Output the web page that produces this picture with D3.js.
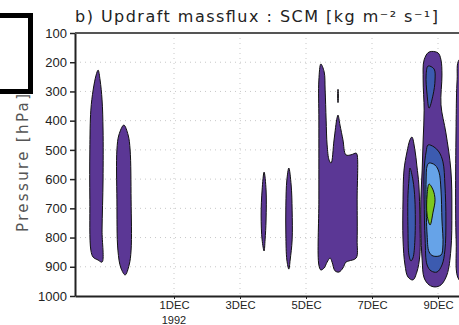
<!DOCTYPE html>
<html>
<head>
<meta charset="utf-8">
<script src="https://cdn.jsdelivr.net/npm/d3@7"></script>
<style>
  body { margin: 0; background: #fff; }
  svg { display: block; }
</style>
</head>
<body>
<div id="chart"></div>
<script>
// time in days of December 1992 (1 = 1DEC 00Z, -2 = 28NOV), pressure in hPa
const pressureTicks = [100, 200, 300, 400, 500, 600, 700, 800, 900, 1000];
const dayTicks = [1, 3, 5, 7, 9];
const dayLabels = ["1DEC", "3DEC", "5DEC", "7DEC", "9DEC"];
const yearLabel = "1992";

// contour outlines, [day, hPa]
const blob1 = [[-1.30,227],[-1.24,261],[-1.18,329],[-1.15,432],[-1.15,603],[-1.18,774],[-1.18,884],[-1.30,877],[-1.45,867],[-1.52,843],[-1.55,671],[-1.55,500],[-1.52,364],[-1.45,295],[-1.36,244]];
const blob2 = [[-0.52,415],[-0.39,449],[-0.33,500],[-0.30,671],[-0.30,843],[-0.36,894],[-0.48,928],[-0.61,904],[-0.70,843],[-0.73,671],[-0.73,500],[-0.67,449]];
const blob3 = [[3.73,576],[3.79,637],[3.79,740],[3.76,808],[3.73,846],[3.67,808],[3.64,723],[3.67,637]];
const blob4 = [[4.48,562],[4.55,620],[4.58,706],[4.58,808],[4.52,877],[4.48,908],[4.42,877],[4.39,791],[4.39,689],[4.42,603]];
const blob5 = [[5.45,206],[5.55,233],[5.58,295],[5.61,398],[5.64,483],[5.70,535],[5.76,545],[5.85,466],[5.94,391],[5.97,381],[6.03,415],[6.12,466],[6.21,517],[6.36,517],[6.52,511],[6.55,517],[6.55,671],[6.55,808],[6.52,870],[6.30,880],[6.21,884],[6.12,904],[6.00,918],[5.88,914],[5.79,884],[5.73,870],[5.64,884],[5.55,904],[5.45,911],[5.39,894],[5.39,671],[5.39,398],[5.39,261]];
const dash = [[5.968,293],[5.972,293],[5.972,338],[5.968,338]];
const leftOuter = [[8.21,456],[8.30,500],[8.36,555],[8.42,620],[8.45,740],[8.45,860],[8.36,918],[8.24,945],[8.09,935],[8.00,894],[7.94,808],[7.94,671],[7.97,569],[8.06,507],[8.15,466]];
const leftInner = [[8.15,562],[8.24,603],[8.30,671],[8.30,808],[8.24,870],[8.18,880],[8.12,860],[8.09,774],[8.09,654],[8.12,603]];
const mainOuter = [[8.73,165],[9.00,168],[9.09,192],[9.12,244],[9.09,346],[9.24,442],[9.39,569],[9.42,706],[9.39,843],[9.27,928],[9.09,962],[8.91,969],[8.73,962],[8.58,938],[8.52,877],[8.48,774],[8.48,671],[8.52,569],[8.55,466],[8.58,364],[8.55,261],[8.58,192]];
const upperBlue = [[8.70,213],[8.88,223],[8.91,261],[8.85,312],[8.73,357],[8.67,312],[8.64,244]];
const lowerBlue = [[8.70,483],[8.88,490],[9.03,507],[9.15,541],[9.21,620],[9.24,740],[9.21,843],[9.12,894],[8.97,918],[8.79,914],[8.67,894],[8.61,808],[8.58,671],[8.58,569],[8.64,507]];
const lightBlue = [[8.73,545],[8.91,552],[9.03,576],[9.09,637],[9.12,740],[9.15,825],[9.09,860],[8.85,863],[8.73,849],[8.67,791],[8.64,671],[8.64,603],[8.67,555]];
const green = [[8.73,617],[8.85,637],[8.91,671],[8.85,713],[8.76,757],[8.67,723],[8.67,654]];
const rightBlob = [[9.64,192],[10.0,175],[10.0,960],[9.64,945],[9.55,808],[9.55,400],[9.58,260]];

const shapes = [
  { level: 0, pts: blob1 }, { level: 0, pts: blob2 }, { level: 0, pts: blob3 },
  { level: 0, pts: blob4 }, { level: 0, pts: blob5 }, { level: 0, pts: dash },
  { level: 0, pts: leftOuter }, { level: 0, pts: mainOuter }, { level: 0, pts: rightBlob },
  { level: 1, pts: leftInner }, { level: 1, pts: upperBlue }, { level: 1, pts: lowerBlue },
  { level: 2, pts: lightBlue }, { level: 3, pts: green }
];
const levelColors = ["#5b3795", "#3c5bb0", "#66a3e8", "#7cc61e"];

const width = 459;
const height = 325;
const margin = { top: 33, bottom: 29, left: 75 };

const svg = d3.select("#chart")
  .append("svg")
  .attr("width", width)
  .attr("height", height);

const x = d3.scaleLinear()
  .domain([-2, 10])
  .range([margin.left, margin.left + 396]);

const y = d3.scaleLinear()
  .domain([100, 1000])
  .range([margin.top, height - margin.bottom]);

svg.append("clipPath").attr("id", "plot")
  .append("rect")
  .attr("x", margin.left).attr("y", margin.top)
  .attr("width", width - margin.left).attr("height", y(1000) - margin.top);

// dotted grid
const grid = svg.append("g")
  .attr("stroke", "#c8c8c8")
  .attr("stroke-dasharray", "1,4");
grid.selectAll(".hg")
  .data(pressureTicks.slice(1, -1))
  .join("line")
    .attr("x1", margin.left).attr("x2", width)
    .attr("y1", d => y(d)).attr("y2", d => y(d));
grid.selectAll(".vg")
  .data(dayTicks)
  .join("line")
    .attr("x1", d => x(d)).attr("x2", d => x(d))
    .attr("y1", margin.top).attr("y2", y(1000));

// filled contours
const line = d3.line()
  .x(d => x(d[0]))
  .y(d => y(d[1]))
  .curve(d3.curveCatmullRomClosed.alpha(0.5));

svg.append("g")
  .attr("clip-path", "url(#plot)")
  .selectAll("path")
  .data(shapes)
  .join("path")
    .attr("d", d => line(d.pts))
    .attr("fill", d => levelColors[d.level])
    .attr("stroke", "#111")
    .attr("stroke-width", 1);

// axes
svg.append("g")
  .attr("transform", `translate(${margin.left},0)`)
  .call(d3.axisLeft(y).tickValues(pressureTicks).tickFormat(d3.format("d"))
    .tickSize(5).tickSizeOuter(0).tickPadding(3))
  .call(g => g.select(".domain").attr("stroke", "#222").attr("stroke-width", 2))
  .call(g => g.selectAll(".tick line").attr("stroke", "#222").attr("stroke-width", 1.5))
  .call(g => g.selectAll("text").attr("fill", "#222")
    .attr("font-family", "Liberation Sans, Arial, sans-serif").attr("font-size", 13));

svg.append("g")
  .attr("transform", `translate(0,${y(1000)})`)
  .call(d3.axisBottom(x).tickValues(dayTicks).tickSize(3).tickSizeOuter(0).tickPadding(2)
    .tickFormat((d, i) => dayLabels[i]))
  .call(g => g.select(".domain").attr("stroke", "#222").attr("stroke-width", 2))
  .call(g => g.selectAll(".tick line").attr("stroke", "#222"))
  .call(g => g.selectAll("text").attr("fill", "#222")
    .attr("font-family", "Liberation Sans, sans-serif").attr("font-size", 11)
    .attr("textLength", 30).attr("lengthAdjust", "spacingAndGlyphs"));

svg.append("text")
  .attr("x", x(1)).attr("y", 324)
  .attr("text-anchor", "middle")
  .attr("fill", "#222")
  .attr("font-family", "Liberation Sans, sans-serif")
  .attr("font-size", 11)
  .text(yearLabel);

// top frame line
svg.append("line")
  .attr("x1", margin.left).attr("x2", width)
  .attr("y1", margin.top).attr("y2", margin.top)
  .attr("stroke", "#555").attr("stroke-width", 2);

// title
svg.append("text")
  .attr("x", margin.left).attr("y", 22)
  .attr("fill", "#222")
  .attr("font-family", "DejaVu Sans, sans-serif")
  .attr("font-size", 16)
  .attr("textLength", 363)
  .attr("lengthAdjust", "spacing")
  .text("b) Updraft massflux : SCM [kg m⁻² s⁻¹]");

// y label
svg.append("text")
  .attr("transform", "translate(28,163) rotate(-90)")
  .attr("text-anchor", "middle")
  .attr("fill", "#555")
  .attr("font-family", "DejaVu Sans, sans-serif")
  .attr("font-size", 15)
  .attr("textLength", 138)
  .attr("lengthAdjust", "spacing")
  .text("Pressure [hPa]");

// neighbouring panel frame
svg.append("rect")
  .attr("x", -10).attr("y", 15.5)
  .attr("width", 40.5).attr("height", 76)
  .attr("fill", "#fff")
  .attr("stroke", "#000")
  .attr("stroke-width", 5);
</script>
</body>
</html>
